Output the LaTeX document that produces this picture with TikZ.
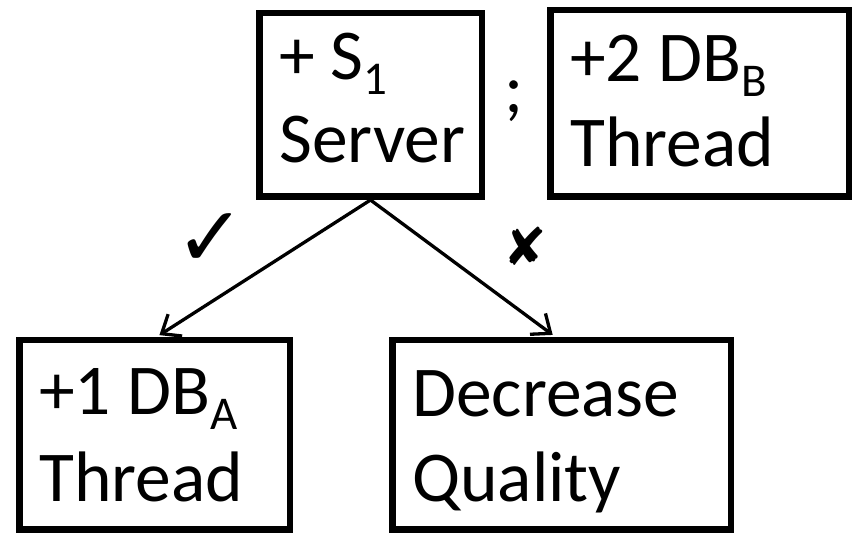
\documentclass[tikz,border=0pt]{standalone}
\usepackage{fontspec}
\setmainfont{Carlito}
\newfontfamily\symfont{DejaVu Sans}
\usetikzlibrary{arrows.meta}
\newcommand\mysub[1]{\raisebox{-15pt}{\fontsize{47}{47}\selectfont #1}}
\begin{document}
\begin{tikzpicture}[x=1pt,y=-1pt,
  box/.style={draw, line width=6.5pt, inner sep=0pt},
  txt/.style={anchor=base west, inner sep=0pt, font=\fontsize{71.5}{85}\selectfont},
  conn/.style={line width=3.3pt, shorten >=3.5pt, -{Straight Barb[length=16pt,width=26pt,line width=3.3pt]}},
  symb/.style={inner sep=0pt, font=\symfont\fontsize{84}{84}\selectfont}]
\useasboundingbox (0,0) rectangle (852,534);
% boxes
\node[box, minimum width=222.5pt, minimum height=183.5pt] (s) at (370.5,105) {};
\node[box, minimum width=298.5pt, minimum height=186.5pt] (b) at (699.5,103.5) {};
\node[box, minimum width=270.5pt, minimum height=189.5pt] (a) at (154.5,435) {};
\node[box, minimum width=338.5pt, minimum height=189.5pt] (d) at (561.5,435) {};
% texts
\node[txt] (s1) at (279,80) {+ S\mysub{1}};
\node[txt] (s2) at (279,163) {Server};
\node[txt] (b1) at (570,82) {+2 DB\mysub{B}};
\node[txt] (b2) at (570,167) {Thread};
\node[txt] (a1) at (39,415) {+1 DB\mysub{A}};
\node[txt] (a2) at (39,502) {Thread};
\node[txt] (d1) at (412,417) {Decrease};
\node[txt] (d2) at (412,502) {Quality};
\node[txt] (semi) at (504,113) {;};
% connectors
\draw[conn] (s.south) -- ([xshift=2pt]a.north);
\draw[conn] (s.south) -- ([xshift=-6pt]d.north);
% marks
\node[symb] (ck) at (211,240) {✓};
\node[symb, font=\symfont\fontsize{52}{52}\selectfont] (cx) at (525,246) {✘};
\end{tikzpicture}
\end{document}
